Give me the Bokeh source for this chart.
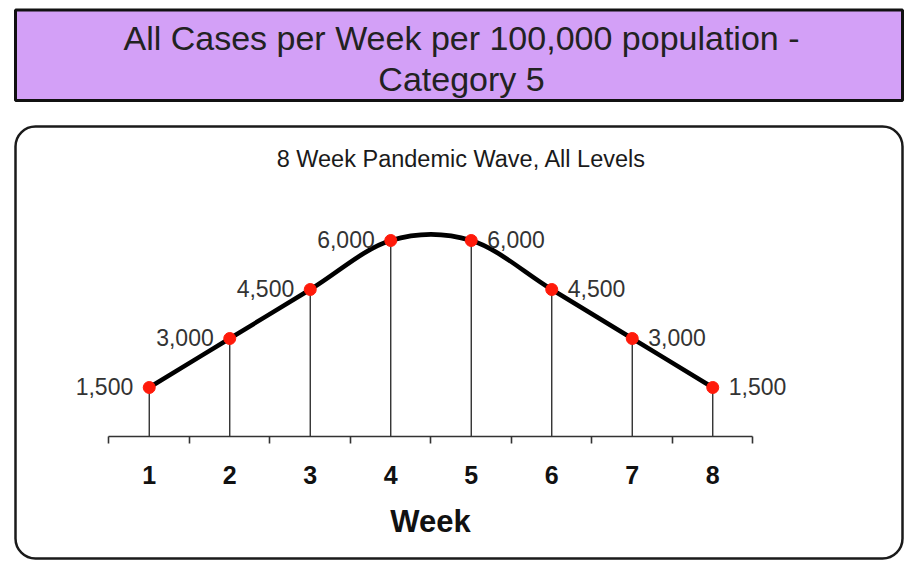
import numpy as np
from bokeh.plotting import figure
from bokeh.models import (ColumnDataSource, LinearAxis, FixedTicker, BoxAnnotation,
                          Label, Range1d)
from bokeh.core.properties import value
from bokeh.embed import file_html
from bokeh.resources import INLINE

# ---------------- data ----------------
weeks = [1, 2, 3, 4, 5, 6, 7, 8]
cases = [1500, 3000, 4500, 6000, 6000, 4500, 3000, 1500]
week_boundaries = [0.5, 1.5, 2.5, 3.5, 4.5, 5.5, 6.5, 7.5, 8.5]
title_lines = ["All Cases per Week per 100,000 population -", "Category 5"]
subtitle = "8 Week Pandemic Wave, All Levels"
x_label = "Week"

FONT = "Liberation Sans"
W, H = 904, 561

p = figure(width=W, height=H, output_backend="svg", toolbar_location=None,
           x_range=Range1d(-0.8478, 10.382), y_range=Range1d(-3826.5, 13347),
           x_axis_location=None, y_axis_location=None,
           min_border_left=0, min_border_right=0, min_border_top=0,
           min_border_bottom=0,
           background_fill_color="white", border_fill_color="white",
           outline_line_color=None)
p.grid.visible = False


def sy(page_y):
    """page (top-down) pixel -> frame screen units (bottom-up)"""
    return H - page_y


# ---------------- decorative boxes ----------------
title_box = BoxAnnotation(left=15, right=902, top=sy(9.5), bottom=sy(100),
                          left_units="screen", right_units="screen",
                          top_units="screen", bottom_units="screen",
                          fill_color="#d3a0f7", fill_alpha=1.0,
                          line_color="#111111", line_alpha=1.0, line_width=3,
                          level="underlay")
p.add_layout(title_box)

chart_box = BoxAnnotation(left=15, right=902, top=sy(126), bottom=sy(558),
                          left_units="screen", right_units="screen",
                          top_units="screen", bottom_units="screen",
                          fill_color=None, fill_alpha=0.0,
                          line_color="#1a1a1a", line_alpha=1.0, line_width=2.5,
                          border_radius=20, level="underlay")
p.add_layout(chart_box)

for txt, py in zip(title_lines, [37, 78]):
    p.add_layout(Label(x=461, y=sy(py), x_units="screen", y_units="screen", text=txt,
                       text_align="center", text_baseline="middle",
                       text_font=FONT, text_font_size="34px", text_color="#222222"))

p.add_layout(Label(x=461, y=sy(158), x_units="screen", y_units="screen",
                   text=subtitle, text_align="center", text_baseline="middle",
                   text_font=FONT, text_font_size="23.5px", text_color="#1a1a1a"))

# ---------------- smoothed line (Excel-style bezier) ----------------
xs = np.array(weeks, dtype=float)
ys = np.array(cases, dtype=float)
xp = np.concatenate([[xs[0]], xs, [xs[-1]]])
yp = np.concatenate([[ys[0]], ys, [ys[-1]]])
n = len(xs)
cx0 = xp[1:n] + (xp[2:n + 1] - xp[0:n - 1]) / 6
cy0 = yp[1:n] + (yp[2:n + 1] - yp[0:n - 1]) / 6
cx1 = xp[2:n + 1] - (xp[3:n + 2] - xp[1:n]) / 6
cy1 = yp[2:n + 1] - (yp[3:n + 2] - yp[1:n]) / 6

# drop lines
p.segment(x0=weeks, y0=[0] * n, x1=weeks, y1=cases, line_color="#222222", line_width=1.3)

p.bezier(x0=xs[:-1], y0=ys[:-1], x1=xs[1:], y1=ys[1:],
         cx0=cx0, cy0=cy0, cx1=cx1, cy1=cy1,
         line_color="black", line_width=4.5, line_cap="round")

p.scatter(weeks, cases, size=12, fill_color="#ff1a0a", line_color="#ff1a0a")

# value labels
half = n // 2
src = ColumnDataSource(dict(
    x=weeks, y=cases,
    text=[f"{v:,}" for v in cases],
    align=["right" if i < half else "left" for i in range(n)],
    xoff=[-16 if i < half else 16 for i in range(n)],
))
p.text(x="x", y="y", text="text", source=src, text_align="align", x_offset="xoff",
       y_offset=-1, text_baseline="middle", text_font=value(FONT),
       text_font_size="23px", text_color="#333333")

# ---------------- axis ----------------
ax = LinearAxis(ticker=FixedTicker(ticks=weeks, minor_ticks=week_boundaries),
                bounds=(0.5, 8.5), fixed_location=0)
ax.axis_line_color = "#333333"
ax.axis_line_width = 1.6
ax.major_tick_line_color = None
ax.major_tick_out = 0
ax.major_tick_in = 0
ax.minor_tick_line_color = "#333333"
ax.minor_tick_line_width = 1.6
ax.minor_tick_out = 7
ax.minor_tick_in = 0
ax.major_label_text_font = FONT
ax.major_label_text_font_size = "25px"
ax.major_label_text_font_style = "bold"
ax.major_label_text_color = "#111111"
ax.major_label_standoff = 22
ax.axis_label = x_label
ax.axis_label_text_font = FONT
ax.axis_label_text_font_size = "31px"
ax.axis_label_text_font_style = "bold"
ax.axis_label_text_color = "#111111"
ax.axis_label_standoff = 17
p.add_layout(ax, "below")

open("out.html", "w").write(file_html(p, INLINE))
